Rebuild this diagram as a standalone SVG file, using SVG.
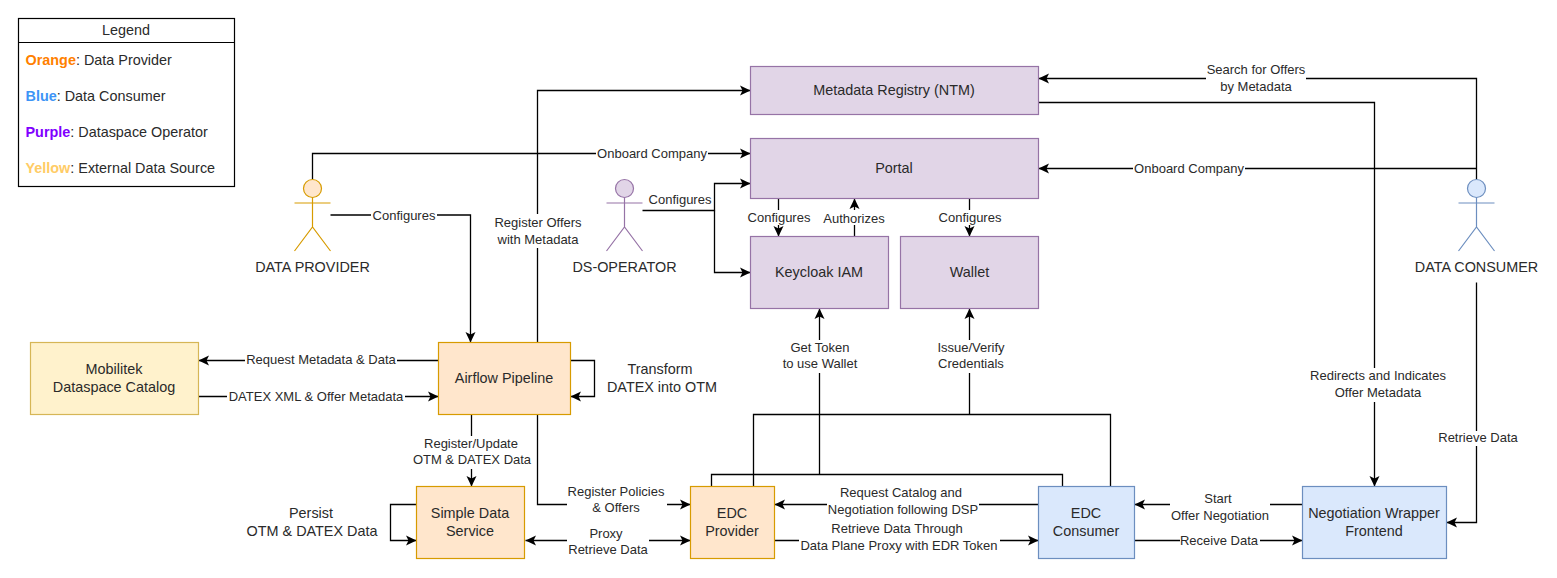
<svg xmlns="http://www.w3.org/2000/svg" width="1557" height="578" viewBox="0 0 1557 578">
<style>
text{font-family:"Liberation Sans",Arial,sans-serif;fill:#2a2a2a;text-anchor:middle}
.n{font-size:14.4px}
.l{font-size:13px}
.c{fill:none;stroke:#000;stroke-width:1.3;marker-end:url(#a)}
.p{fill:none;stroke:#000;stroke-width:1.3}
.b{fill:#fff}
.pu{fill:#e1d5e7;stroke:#9673a6;stroke-width:1.2}
.or{fill:#ffe6cc;stroke:#d79b00;stroke-width:1.2}
.bl{fill:#dae8fc;stroke:#6c8ebf;stroke-width:1.2}
.ye{fill:#fff2cc;stroke:#d6b656;stroke-width:1.2}
.le{text-anchor:start;font-size:14.4px}
</style>
<defs>
<marker id="a" markerUnits="userSpaceOnUse" markerWidth="12" markerHeight="12" refX="11" refY="6" orient="auto"><path d="M0.5 1 L11 6 L0.5 11 L3 6Z" fill="#000"/></marker>
<marker id="s" markerUnits="userSpaceOnUse" markerWidth="12" markerHeight="12" refX="1" refY="6" orient="auto"><path d="M11.5 1 L1 6 L11.5 11 L9 6Z" fill="#000"/></marker>
</defs>
<rect width="1557" height="578" fill="#fff"/>
<g id="legend">
<rect x="18.5" y="18.5" width="216" height="168" fill="#fff" stroke="#000" stroke-width="1.2"/>
<path d="M18.5 42.5H234.5" stroke="#000" stroke-width="1.2"/>
<text x="126" y="35" class="n">Legend</text>
<text x="25.5" y="65" class="le"><tspan font-weight="bold" style="fill:#ff8000">Orange</tspan>: Data Provider</text>
<text x="25.5" y="101" class="le"><tspan font-weight="bold" style="fill:#3d94f6">Blue</tspan>: Data Consumer</text>
<text x="25.5" y="137" class="le"><tspan font-weight="bold" style="fill:#7f00ff">Purple</tspan>: Dataspace Operator</text>
<text x="25.5" y="173" class="le"><tspan font-weight="bold" style="fill:#ffcc66">Yellow</tspan>: External Data Source</text>
</g>
<g id="connectors">
<path class="c" d="M312.5 179V153.5H750.5"/>
<path class="c" d="M330.5 215H470.5V342.5"/>
<path class="c" d="M537.5 342.5V90.5H750.5"/>
<path class="c" d="M642.5 210.5H714.5V183.5H750.5"/>
<path class="c" d="M714.5 210.5V272.5H750.5"/>
<path class="c" d="M778.5 198.5V236.5"/>
<path class="c" d="M854.5 236.5V198.5"/>
<path class="c" d="M969.5 198.5V236.5"/>
<path class="c" d="M1476.5 179V78.5H1038.5"/>
<path class="c" d="M1476.5 168.5H1038.5"/>
<path class="c" d="M1038.5 102.5H1374.5V486.5"/>
<path class="c" d="M1476.5 282.5V522.5H1446.5"/>
<path class="c" d="M438.5 360.5H198.5"/>
<path class="c" d="M198.5 396.5H438.5"/>
<path class="c" d="M570.5 360.5H594.5V396.5H570.5"/>
<path class="c" d="M471.5 414.5V486.5"/>
<path class="c" d="M537.5 414.5V504.5H690.5"/>
<path class="c" style="marker-start:url(#s)" d="M525.5 540.5H690.5"/>
<path class="c" d="M416.5 504.5H390.5V540.5H416.5"/>
<path class="p" d="M711.5 486.5V474.5H1062.5V486.5"/>
<path class="c" d="M819.5 474.5V308.5"/>
<path class="p" d="M753.5 486.5V414.5H1110.5V486.5"/>
<path class="c" d="M969.5 414.5V308.5"/>
<path class="c" d="M1038.5 504.5H774.5"/>
<path class="c" d="M774.5 540.5H1038.5"/>
<path class="c" d="M1302.5 504.5H1134.5"/>
<path class="c" d="M1134.5 540.5H1302.5"/>
<g id="connector-labels">
<rect class="b" x="596" y="146" width="112" height="15"/><text class="l" x="652" y="157.5">Onboard Company</text>
<rect class="b" x="371" y="208" width="66" height="15"/><text class="l" x="404" y="220">Configures</text>
<rect class="b" x="493" y="214" width="90" height="34"/><text class="l" x="538" y="227">Register Offers</text><text class="l" x="538" y="244">with Metadata</text>
<rect class="b" x="647" y="192" width="66" height="16"/><text class="l" x="680" y="204">Configures</text>
<rect class="b" x="747" y="210" width="64" height="15"/><text class="l" x="779" y="222">Configures</text>
<rect class="b" x="822" y="210" width="64" height="15"/><text class="l" x="854" y="223">Authorizes</text>
<rect class="b" x="938" y="210" width="64" height="15"/><text class="l" x="970" y="222">Configures</text>
<rect class="b" x="1206" y="62" width="100" height="34"/><text class="l" x="1256" y="74">Search for Offers</text><text class="l" x="1256" y="91">by Metadata</text>
<rect class="b" x="1133" y="161" width="112" height="15"/><text class="l" x="1189" y="173">Onboard Company</text>
<rect class="b" x="1308" y="368" width="140" height="34"/><text class="l" x="1378" y="380">Redirects and Indicates</text><text class="l" x="1378" y="397">Offer Metadata</text>
<rect class="b" x="1437" y="431" width="82" height="15"/><text class="l" x="1478" y="442">Retrieve Data</text>
<rect class="b" x="245" y="353" width="152" height="15"/><text class="l" x="321" y="364">Request Metadata &amp; Data</text>
<rect class="b" x="227" y="389" width="178" height="15"/><text class="l" x="316" y="401">DATEX XML &amp; Offer Metadata</text>
<rect class="b" x="412" y="436" width="120" height="33"/><text class="l" x="471" y="448">Register/Update</text><text class="l" x="472" y="464">OTM &amp; DATEX Data</text>
<rect class="b" x="567" y="484" width="100" height="34"/><text class="l" x="616" y="496">Register Policies</text><text class="l" x="616" y="512">&amp; Offers</text>
<rect class="b" x="567" y="526" width="82" height="33"/><text class="l" x="606" y="538">Proxy</text><text class="l" x="608" y="554">Retrieve Data</text>
<rect class="b" x="779" y="340" width="80" height="33"/><text class="l" x="820" y="352">Get Token</text><text class="l" x="820" y="368">to use Wallet</text>
<rect class="b" x="936" y="340" width="70" height="33"/><text class="l" x="971" y="352">Issue/Verify</text><text class="l" x="971" y="368">Credentials</text>
<rect class="b" x="827" y="485" width="152" height="34"/><text class="l" x="901" y="497">Request Catalog and</text><text class="l" x="903" y="514">Negotiation following DSP</text>
<rect class="b" x="799" y="521" width="201" height="34"/><text class="l" x="897" y="533">Retrieve Data Through</text><text class="l" x="899" y="550">Data Plane Proxy with EDR Token</text>
<rect class="b" x="1170" y="490" width="100" height="34"/><text class="l" x="1218" y="503">Start</text><text class="l" x="1220" y="520">Offer Negotiation</text>
<rect class="b" x="1180" y="533" width="80" height="15"/><text class="l" x="1219" y="545">Receive Data</text>
</g>
</g>
<g id="metadata-registry"><rect class="pu" x="750.5" y="66.5" width="288" height="48"/><text class="n" x="894" y="95">Metadata Registry (NTM)</text></g>
<g id="portal"><rect class="pu" x="750.5" y="138.5" width="288" height="60"/><text class="n" x="894" y="173">Portal</text></g>
<g id="keycloak"><rect class="pu" x="750.5" y="236.5" width="138" height="72"/><text class="n" x="819" y="277">Keycloak IAM</text></g>
<g id="wallet"><rect class="pu" x="900.5" y="236.5" width="138" height="72"/><text class="n" x="969.5" y="277">Wallet</text></g>
<g id="mobilitek"><rect class="ye" x="30.5" y="342.5" width="168" height="72"/><text class="n" x="114" y="374">Mobilitek</text><text class="n" x="114" y="392">Dataspace Catalog</text></g>
<g id="airflow"><rect class="or" x="438.5" y="342.5" width="132" height="72"/><text class="n" x="504" y="383">Airflow Pipeline</text></g>
<g id="simple-data-service"><rect class="or" x="416.5" y="486.5" width="108" height="72"/><text class="n" x="470" y="518">Simple Data</text><text class="n" x="470" y="536">Service</text></g>
<g id="edc-provider"><rect class="or" x="690.5" y="486.5" width="84" height="72"/><text class="n" x="732" y="518">EDC</text><text class="n" x="732" y="536">Provider</text></g>
<g id="edc-consumer"><rect class="bl" x="1038.5" y="486.5" width="96" height="72"/><text class="n" x="1086" y="518">EDC</text><text class="n" x="1086" y="536">Consumer</text></g>
<g id="negotiation"><rect class="bl" x="1302.5" y="486.5" width="144" height="72"/><text class="n" x="1374" y="518">Negotiation Wrapper</text><text class="n" x="1374" y="536">Frontend</text></g>
<g id="transform-note"><text class="n" x="660" y="374">Transform</text><text class="n" x="662" y="392">DATEX into OTM</text></g>
<g id="persist-note"><text class="n" x="311" y="518">Persist</text><text class="n" x="312" y="536">OTM &amp; DATEX Data</text></g>
<g id="data-provider"><g class="or"><circle cx="312.5" cy="188.5" r="9"/><path fill="none" d="M312.5 197.5V227M294.5 203H330.5M294.5 251L312.5 227L330.5 251"/></g><text class="n" x="312.5" y="272">DATA PROVIDER</text></g>
<g id="ds-operator"><g class="pu"><circle cx="624.5" cy="188.5" r="9"/><path fill="none" d="M624.5 197.5V227M606.5 203H642.5M606.5 251L624.5 227L642.5 251"/></g><text class="n" x="624.5" y="272">DS-OPERATOR</text></g>
<g id="data-consumer"><g class="bl"><circle cx="1476.5" cy="188.5" r="9"/><path fill="none" d="M1476.5 197.5V227M1458.5 203H1494.5M1458.5 251L1476.5 227L1494.5 251"/></g><text class="n" x="1476.5" y="272">DATA CONSUMER</text></g>
</svg>
